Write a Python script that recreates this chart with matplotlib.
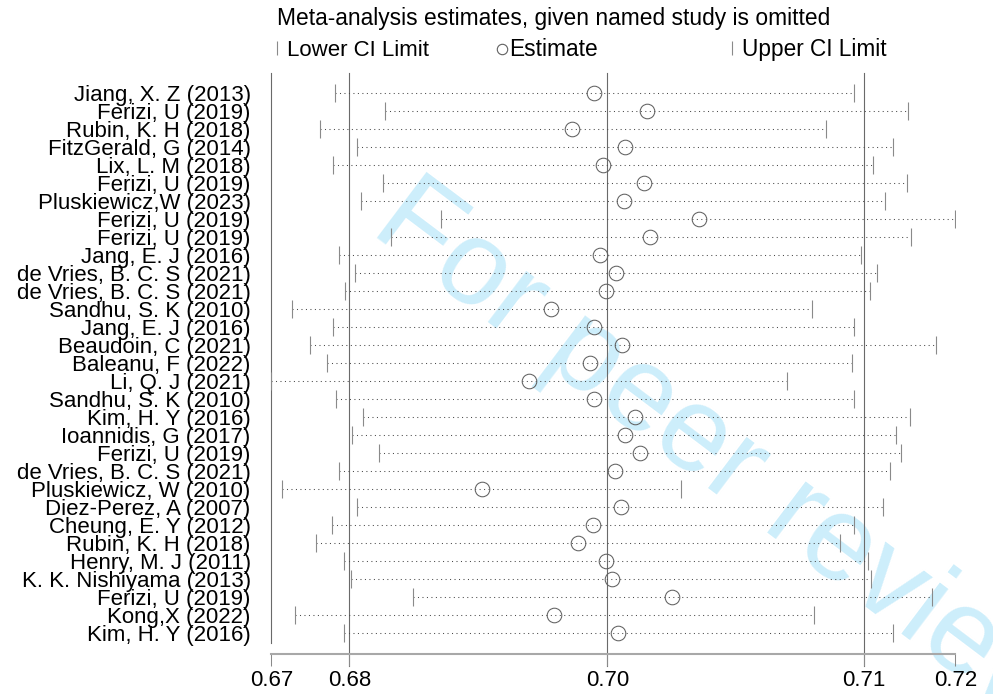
import matplotlib
matplotlib.use("Agg")
import matplotlib.pyplot as plt

plt.rcParams['font.family'] = ['Liberation Sans', 'DejaVu Sans']

studies = [
    "Jiang, X. Z (2013)", "Ferizi, U (2019)", "Rubin, K. H (2018)", "FitzGerald, G (2014)",
    "Lix, L. M (2018)", "Ferizi, U (2019)", "Pluskiewicz,W (2023)", "Ferizi, U (2019)",
    "Ferizi, U (2019)", "Jang, E. J (2016)", "de Vries, B. C. S (2021)", "de Vries, B. C. S (2021)",
    "Sandhu, S. K (2010)", "Jang, E. J (2016)", "Beaudoin, C (2021)", "Baleanu, F (2022)",
    "Li, Q. J (2021)", "Sandhu, S. K (2010)", "Kim, H. Y (2016)", "Ioannidis, G (2017)",
    "Ferizi, U (2019)", "de Vries, B. C. S (2021)", "Pluskiewicz, W (2010)", "Diez-Perez, A (2007)",
    "Cheung, E. Y (2012)", "Rubin, K. H (2018)", "Henry, M. J (2011)", "K. K. Nishiyama (2013)",
    "Ferizi, U (2019)", "Kong,X (2022)", "Kim, H. Y (2016)",
]
estimate = [0.6951, 0.6987, 0.6936, 0.6972, 0.6957, 0.6985, 0.6971, 0.7022, 0.6989, 0.6955,
            0.6966, 0.6959, 0.6922, 0.6951, 0.6970, 0.6948, 0.6907, 0.6951, 0.6979, 0.6972,
            0.6982, 0.6965, 0.6875, 0.6969, 0.6950, 0.6940, 0.6959, 0.6963, 0.7004, 0.6924,
            0.6967]
lower = [0.6775, 0.6809, 0.6765, 0.6790, 0.6774, 0.6808, 0.6793, 0.6847, 0.6813, 0.6778,
         0.6789, 0.6782, 0.6746, 0.6774, 0.6758, 0.6770, 0.6732, 0.6776, 0.6794, 0.6787,
         0.6805, 0.6778, 0.6739, 0.6790, 0.6773, 0.6762, 0.6781, 0.6786, 0.6828, 0.6748,
         0.6781]
upper = [0.7127, 0.7164, 0.7108, 0.7154, 0.7140, 0.7163, 0.7148, 0.7196, 0.7166, 0.7132,
         0.7143, 0.7138, 0.7099, 0.7127, 0.7183, 0.7126, 0.7082, 0.7127, 0.7165, 0.7156,
         0.7159, 0.7152, 0.7010, 0.7147, 0.7127, 0.7118, 0.7137, 0.7139, 0.7180, 0.7100,
         0.7154]
overall_est = 0.6960
overall_lower = 0.6785
overall_upper = 0.7134

title = "Meta-analysis estimates, given named study is omitted"
legend_labels = ["Lower CI Limit", "Estimate", "Upper CI Limit"]

W, H = 993, 694
fig = plt.figure(figsize=(W / 100, H / 100), dpi=100)
fig.patch.set_facecolor("white")

# watermark (behind everything)
fig.text(368 / W, 1 - 232.5 / H, "For peer review", rotation=-37, rotation_mode="anchor",
         ha="left", va="baseline", fontsize=87, color="#cdeefb", zorder=-5)

ax_left, ax_right, ax_top, ax_bot = 271.3, 955.3, 72.7, 654.0
ax = fig.add_axes([ax_left / W, 1 - ax_bot / H, (ax_right - ax_left) / W, (ax_bot - ax_top) / H])
ax.set_facecolor("none")

n = len(studies)
rows = list(range(1, n + 1))
row_px = 18.0
first_px = 92.7
y_top = 1 + (ax_top - first_px) / row_px
y_bot = 1 + (ax_bot - first_px) / row_px
ax.set_ylim(y_bot, y_top)

xmin, xmax = min(lower), max(upper)
ax.set_xlim(xmin, xmax)

# dotted CI lines
for r, lo, hi in zip(rows, lower, upper):
    ax.plot([lo, hi], [r, r], color="#4a4a4a", lw=0.75, dashes=(1.0, 3.3), zorder=2)
ax.plot(lower, rows, linestyle="none", marker="|", markersize=12.3, mew=0.8, color="#8a8a8a", zorder=3)
ax.plot(upper, rows, linestyle="none", marker="|", markersize=12.3, mew=0.8, color="#8a8a8a", zorder=3)
ax.plot(estimate, rows, linestyle="none", marker="o", markersize=10.5, mew=0.75,
        markerfacecolor="none", markeredgecolor="#606060", zorder=4)

# reference lines at overall estimate and CI
y_line_end = 1 + (666 - first_px) / row_px
for xv in [overall_lower, overall_est, overall_upper]:
    ax.plot([xv, xv], [y_top, y_line_end], color="#6a6a6a", lw=0.8, clip_on=False, zorder=1)

# y axis line (left)
for s in ["top", "right"]:
    ax.spines[s].set_visible(False)
ax.spines["left"].set_color("#6a6a6a")
ax.spines["left"].set_linewidth(0.8)
ax.spines["left"].set_bounds(1 + (643 - first_px) / row_px, y_top)
ax.spines["bottom"].set_color("#a8a8a8")
ax.spines["bottom"].set_linewidth(1.5)

xt = [xmin, overall_lower, overall_est, overall_upper, xmax]
ax.set_xticks(xt)
ax.set_xticklabels(["%.2f" % v for v in xt])
ax.tick_params(axis="x", direction="out", length=8.6, width=0.75, color="#8a8a8a",
               labelsize=16, labelcolor="black", pad=3)
ax.set_yticks(rows)
ax.set_yticklabels(studies)
ax.tick_params(axis="y", length=0, pad=14.8, labelsize=16, labelcolor="black")

# title and legend in an overlay in pixel units
ov = fig.add_axes([0, 0, 1, 1])
ov.set_xlim(0, W)
ov.set_ylim(H, 0)
ov.axis("off")
ov.set_facecolor("none")
ov.text(277, 25, title, fontsize=16.35, ha="left", va="baseline")
ov.plot([277], [48], marker="|", markersize=9.5, mew=0.8, color="#8a8a8a", linestyle="none")
ov.text(287, 56, legend_labels[0], fontsize=16, ha="left", va="baseline")
ov.plot([501.5], [48.5], marker="o", markersize=7.5, mew=0.8, markerfacecolor="none",
        markeredgecolor="#606060", linestyle="none")
ov.text(509, 56, legend_labels[1], fontsize=16.4, ha="left", va="baseline")
ov.plot([732], [48], marker="|", markersize=9.5, mew=0.8, color="#8a8a8a", linestyle="none")
ov.text(742, 56, legend_labels[2], fontsize=16.3, ha="left", va="baseline")

fig.savefig("out.png", dpi=100)
